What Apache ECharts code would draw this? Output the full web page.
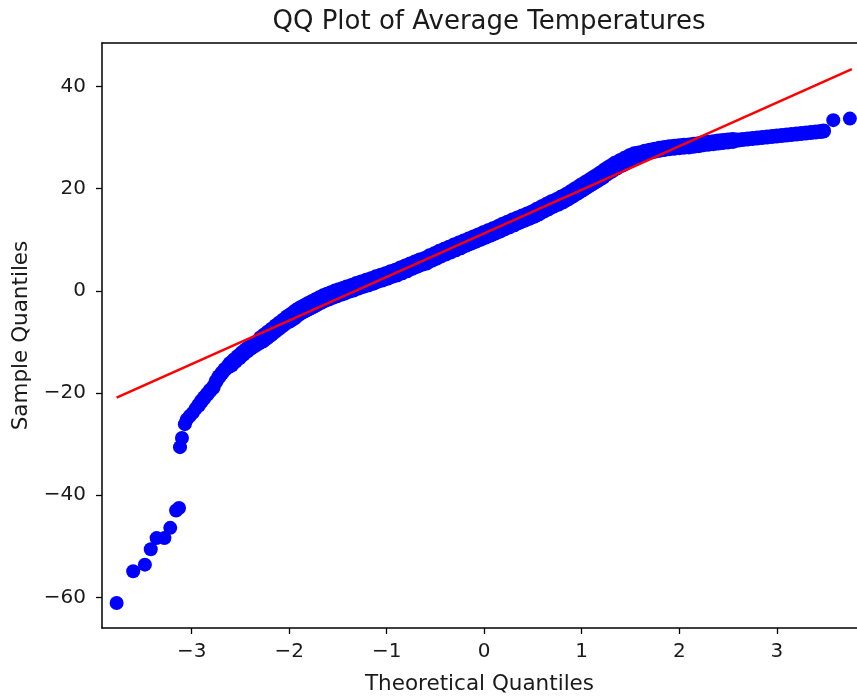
<!DOCTYPE html>
<html>
<head>
<meta charset="utf-8">
<script src="https://cdn.jsdelivr.net/npm/echarts@6/dist/echarts.min.js"></script>
<style>
  html, body { margin: 0; padding: 0; background: #fff; }
  #chart { width: 857px; height: 700px; }
</style>
</head>
<body>
<div id="chart"></div>
<script>
// ---- Data ----
const theoreticalQuantiles = [
  -3.77, -3.60, -3.48, -3.42, -3.36, -3.28, -3.22, -3.16, -3.13, -3.12, -3.10,
  -3.07, -3.05, -3.02, -2.99, -2.96, -2.93, -2.90, -2.87, -2.84, -2.81, -2.78,
  -2.75, -2.72, -2.69, -2.66, -2.63, -2.60, -2.56, -2.52, -2.48, -2.44, -2.40,
  -2.36, -2.32, -2.28, -2.24, -2.20, -2.16, -2.12, -2.08, -2.04, -2.00, -1.96,
  -1.92, -1.88, -1.84, -1.80, -1.76, -1.72, -1.68, -1.64, -1.60, -1.56, -1.52,
  -1.48, -1.44, -1.40, -1.35, -1.30, -1.25, -1.20, -1.15, -1.10, -1.05, -1.00,
  -0.95, -0.90, -0.85, -0.80, -0.75, -0.70, -0.65, -0.60, -0.55, -0.50, -0.45,
  -0.40, -0.35, -0.30, -0.25, -0.20, -0.15, -0.10, -0.05, 0.00, 0.05, 0.10,
  0.15, 0.20, 0.25, 0.30, 0.35, 0.40, 0.45, 0.50, 0.55, 0.60, 0.65, 0.70,
  0.75, 0.80, 0.85, 0.90, 0.95, 1.00, 1.05, 1.10, 1.15, 1.20, 1.25, 1.30,
  1.35, 1.40, 1.45, 1.50, 1.55, 1.60, 1.65, 1.70, 1.75, 1.80, 1.85, 1.90,
  1.95, 2.00, 2.05, 2.10, 2.15, 2.20, 2.25, 2.30, 2.35, 2.40, 2.45, 2.50,
  2.55, 2.60, 2.65, 2.70, 2.75, 2.80, 2.85, 2.90, 2.95, 3.00, 3.05, 3.10,
  3.15, 3.20, 3.25, 3.30, 3.35, 3.40, 3.45, 3.48, 3.58, 3.75
];
const sampleQuantiles = [
  -61.1, -54.9, -53.6, -50.6, -48.4, -48.4, -46.4, -43.0, -42.5, -30.6, -28.8,
  -26.1, -25.2, -24.5, -23.9, -23.1, -22.4, -21.6, -20.9, -20.2, -19.5, -18.9,
  -17.7, -16.8, -16.1, -15.4, -14.9, -14.4, -13.7, -13.0, -12.3, -11.7, -11.1,
  -10.6, -10.1, -9.5, -8.9, -8.3, -7.7, -7.1, -6.5, -5.9, -5.4, -4.9,
  -4.3, -3.8, -3.4, -3.0, -2.6, -2.2, -1.8, -1.4, -1.1, -0.8, -0.5,
  -0.25, 0.0, 0.3, 0.6, 1.0, 1.3, 1.6, 1.9, 2.3, 2.6, 2.9,
  3.3, 3.6, 4.0, 4.4, 4.8, 5.2, 5.6, 5.9, 6.4, 6.8, 7.3,
  7.7, 8.1, 8.5, 8.9, 9.3, 9.7, 10.1, 10.5, 10.9, 11.3, 11.7,
  12.1, 12.6, 13.0, 13.4, 13.8, 14.2, 14.6, 15.0, 15.5, 16.0, 16.5, 17.0,
  17.4, 17.9, 18.4, 19.0, 19.6, 20.2, 20.8, 21.4, 22.0, 22.6, 23.3, 23.9,
  24.5, 25.0, 25.5, 26.0, 26.4, 26.8, 27.1, 27.3, 27.5, 27.7, 27.85, 28.0,
  28.1, 28.2, 28.3, 28.35, 28.5, 28.6, 28.8, 28.9, 29.0, 29.1, 29.2, 29.3,
  29.4, 29.5, 29.6, 29.7, 29.8, 29.9, 30.0, 30.1, 30.2, 30.3, 30.4, 30.5,
  30.6, 30.7, 30.8, 30.9, 31.0, 31.1, 31.2, 31.3, 33.4, 33.7
];
const fitLineX = [-3.77, 3.77];
const fitLineY = [-20.9, 43.4];
const xTickValues = [-3, -2, -1, 0, 1, 2, 3];
const yTickValues = [-60, -40, -20, 0, 20, 40];

const titleText = 'QQ Plot of Average Temperatures';
const xAxisName = 'Theoretical Quantiles';
const yAxisName = 'Sample Quantiles';

// ---- Build options ----
const FONT = '"DejaVu Sans", sans-serif';
const TEXT = '#1a1a1a';
const fmt = v => (v < 0 ? '\u2212' + Math.abs(v) : String(v));

const scatterData = theoreticalQuantiles.map((x, i) => [x, sampleQuantiles[i]]);
const lineData = fitLineX.map((x, i) => [x, fitLineY[i]]);

const spine = { show: true, onZero: false, lineStyle: { color: '#000', width: 1.5 } };

function markerSize(val) {
  const x = val[0];
  if (x < -2.95) return 14;
  if (x < -2.6) return 15;
  if (x < -2.3) return 17;
  if (x < -2.0) return 19;
  if (x < 1.6) return 20;
  if (x < 2.6) return 17;
  if (x < 3.5) return 15;
  return 14;
}

const option = {
  backgroundColor: '#fff',
  animation: false,
  title: {
    text: titleText,
    left: 484, top: 4,
    textAlign: 'center',
    textStyle: { fontFamily: FONT, fontSize: 26, fontWeight: 'normal', color: TEXT }
  },
  grid: { left: 102, right: 0, top: 43, bottom: 67 },
  xAxis: [{
    type: 'value', position: 'bottom',
    min: -3.92, max: 3.823,
    name: xAxisName, nameLocation: 'middle', nameGap: 45,
    nameTextStyle: { fontFamily: FONT, fontSize: 21.5, color: TEXT },
    axisLine: spine,
    axisTick: { show: true, length: 6, customValues: xTickValues, lineStyle: { color: '#000', width: 1.3 } },
    axisLabel: { show: true, customValues: xTickValues, formatter: fmt, margin: 14,
                 fontFamily: FONT, fontSize: 20, color: TEXT },
    splitLine: { show: false }
  }, {
    type: 'value', position: 'top',
    min: -3.92, max: 3.823,
    axisLine: spine, axisTick: { show: false }, axisLabel: { show: false }, splitLine: { show: false }
  }],
  yAxis: [{
    type: 'value', position: 'left',
    min: -66.0, max: 48.5,
    name: yAxisName, nameLocation: 'middle', nameGap: 70, nameRotate: 90,
    nameTextStyle: { fontFamily: FONT, fontSize: 21.5, color: TEXT },
    axisLine: spine,
    axisTick: { show: true, length: 6, customValues: yTickValues, lineStyle: { color: '#000', width: 1.3 } },
    axisLabel: { show: true, customValues: yTickValues, formatter: fmt, margin: 16,
                 fontFamily: FONT, fontSize: 20, color: TEXT },
    splitLine: { show: false }
  }],
  series: [{
    type: 'scatter',
    data: scatterData,
    symbol: 'circle',
    symbolSize: markerSize,
    itemStyle: { color: '#0000ff', opacity: 1 },
    z: 2
  }, {
    type: 'line',
    data: lineData,
    showSymbol: false,
    symbol: 'none',
    lineStyle: { color: '#ff0000', width: 2.5 },
    z: 3
  }]
};

const chart = echarts.init(document.getElementById('chart'), null, { renderer: 'canvas' });
chart.setOption(option);
</script>
</body>
</html>
